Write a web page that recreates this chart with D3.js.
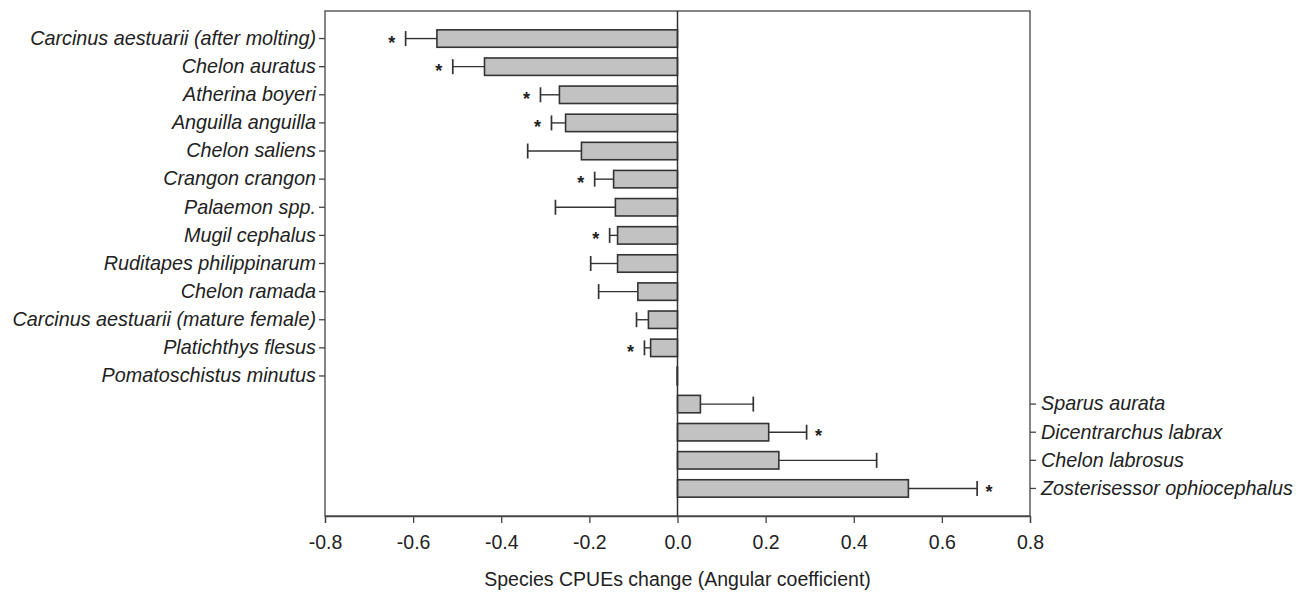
<!DOCTYPE html>
<html>
<head>
<meta charset="utf-8">
<script src="https://cdn.jsdelivr.net/npm/d3@7"></script>
<style>
  body { margin: 0; background: #fff; }
  text { font-family: "Liberation Sans", Arial, sans-serif; fill: #222; }
</style>
</head>
<body>
<div id="chart"></div>
<script>
// species, ordered as in the figure
const species = [
  "Carcinus aestuarii (after molting)", "Chelon auratus", "Atherina boyeri",
  "Anguilla anguilla", "Chelon saliens", "Crangon crangon", "Palaemon spp.",
  "Mugil cephalus", "Ruditapes philippinarum", "Chelon ramada",
  "Carcinus aestuarii (mature female)", "Platichthys flesus", "Pomatoschistus minutus",
  "Sparus aurata", "Dicentrarchus labrax", "Chelon labrosus", "Zosterisessor ophiocephalus"
];
// angular coefficient (bar)
const slopes = [-0.546, -0.438, -0.268, -0.254, -0.218, -0.145, -0.141, -0.136, -0.136,
  -0.090, -0.066, -0.061, -0.001, 0.052, 0.207, 0.230, 0.524];
// end of error bar
const errEnds = [-0.617, -0.510, -0.311, -0.286, -0.340, -0.188, -0.277, -0.154, -0.197,
  -0.179, -0.093, -0.075, -0.001, 0.172, 0.293, 0.452, 0.680];
// significant trend (asterisk)
const significant = [1, 1, 1, 1, 0, 1, 0, 1, 0, 0, 0, 1, 0, 0, 1, 0, 1];
const xTicks = [-0.8, -0.6, -0.4, -0.2, 0.0, 0.2, 0.4, 0.6, 0.8];
const xTitle = "Species CPUEs change (Angular coefficient)";

const width = 1301, height = 594;
const margin = {top: 11, left: 325, right: 271, bottom: 78};
const innerW = width - margin.left - margin.right;
const innerH = height - margin.top - margin.bottom;
const font = "Liberation Sans, Arial, sans-serif";

const data = species.map((s, i) => ({name: s, v: slopes[i], e: errEnds[i], sig: significant[i]}));

const svg = d3.select("#chart").append("svg")
  .attr("width", width).attr("height", height);

const g = svg.append("g").attr("transform", `translate(${margin.left},${margin.top})`);

const x = d3.scaleLinear().domain([-0.8, 0.8]).range([0, innerW]);
const y = d3.scaleBand().domain(species).range([0, innerH])
  .paddingInner(0.38).paddingOuter(0.67);

// frame
g.append("rect").attr("width", innerW).attr("height", innerH)
  .attr("fill", "none").attr("stroke", "#444").attr("stroke-width", 1.3);

// bottom axis
const xAxis = g.append("g").attr("transform", `translate(0,${innerH})`)
  .call(d3.axisBottom(x).tickValues(xTicks)
    .tickFormat(d => d3.format(".1f")(d).replace("\u2212", "-"))
    .tickSize(7).tickPadding(12));
xAxis.select(".domain").attr("stroke", "#444").attr("stroke-width", 1.3);
xAxis.selectAll(".tick line").attr("stroke", "#444").attr("stroke-width", 1.3);
xAxis.selectAll("text").attr("font-size", 19.5).attr("fill", "#222").attr("font-family", font);

// left axis: species with negative/zero change, right axis: positive change
const leftSp = data.filter(d => d.v <= 0).map(d => d.name);
const rightSp = data.filter(d => d.v > 0).map(d => d.name);

const yl = g.append("g")
  .call(d3.axisLeft(y).tickValues(leftSp).tickSize(6).tickPadding(3));
yl.select(".domain").remove();
yl.selectAll(".tick line").attr("stroke", "#444").attr("stroke-width", 1.3);
yl.selectAll("text").attr("font-size", 19.8).attr("font-style", "italic").attr("fill", "#222")
  .attr("font-family", font);

const yr = g.append("g").attr("transform", `translate(${innerW},0)`)
  .call(d3.axisRight(y).tickValues(rightSp).tickSize(6).tickPadding(5));
yr.select(".domain").remove();
yr.selectAll(".tick line").attr("stroke", "#444").attr("stroke-width", 1.3);
yr.selectAll("text").attr("font-size", 19.8).attr("font-style", "italic").attr("fill", "#222")
  .attr("font-family", font);

// error bars
const err = g.append("g").selectAll("g").data(data.filter(d => d.e !== d.v)).join("g");
err.append("line")
  .attr("x1", d => x(d.v)).attr("x2", d => x(d.e))
  .attr("y1", d => y(d.name) + y.bandwidth() / 2).attr("y2", d => y(d.name) + y.bandwidth() / 2)
  .attr("stroke", "#333").attr("stroke-width", 1.4);
err.append("line")
  .attr("x1", d => x(d.e)).attr("x2", d => x(d.e))
  .attr("y1", d => y(d.name) + y.bandwidth() / 2 - 7.5).attr("y2", d => y(d.name) + y.bandwidth() / 2 + 7.5)
  .attr("stroke", "#333").attr("stroke-width", 1.7);

// bars
g.append("g").selectAll("rect").data(data).join("rect")
  .attr("x", d => x(Math.min(0, d.v)))
  .attr("width", d => Math.abs(x(d.v) - x(0)))
  .attr("y", d => y(d.name))
  .attr("height", y.bandwidth())
  .attr("fill", "#c2c2c2").attr("stroke", "#333").attr("stroke-width", 1.6);

// zero line
g.append("line").attr("x1", x(0)).attr("x2", x(0)).attr("y1", 0).attr("y2", innerH)
  .attr("stroke", "#333").attr("stroke-width", 1.5);

// asterisks
g.append("g").selectAll("text").data(data.filter(d => d.sig)).join("text")
  .attr("x", d => x(d.e) + (d.v < 0 ? -14 : 12))
  .attr("y", d => y(d.name) + y.bandwidth() / 2 + 10)
  .attr("text-anchor", "middle")
  .attr("font-size", 18).attr("font-weight", "bold")
  .text("*");

// x title
svg.append("text")
  .attr("x", margin.left + innerW / 2).attr("y", 586)
  .attr("text-anchor", "middle").attr("font-size", 19.5)
  .text(xTitle);
</script>
</body>
</html>
